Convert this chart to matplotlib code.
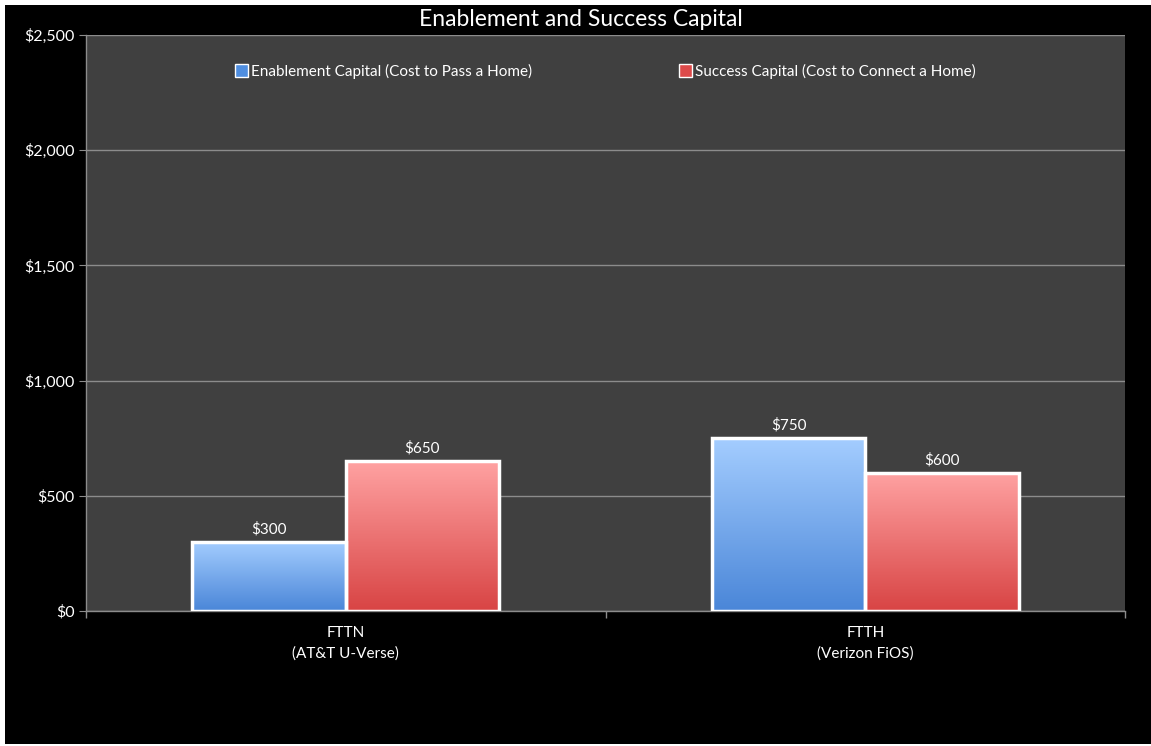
import numpy as np
import matplotlib
matplotlib.use("Agg")
import matplotlib.pyplot as plt
from matplotlib.colors import LinearSegmentedColormap
from matplotlib.patches import Rectangle, Patch
from matplotlib.ticker import FuncFormatter

plt.rcParams['font.family'] = ['Lato', 'DejaVu Sans']

categories = ["FTTN\n(AT&T U-Verse)", "FTTH\n(Verizon FiOS)"]
series_names = ["Enablement Capital (Cost to Pass a Home)",
                "Success Capital (Cost to Connect a Home)"]
enablement = [300, 750]
success = [650, 600]
title = "Enablement and Success Capital"

top_colors = ["#a4cdff", "#ffa2a2"]
bottom_colors = ["#4a86d8", "#d84444"]
legend_colors = ["#4f8ee0", "#dd4a4a"]

fig = plt.figure(figsize=(11.51, 7.46), dpi=100, facecolor="white")
# black chart area with thin white border
fig.patches.append(Rectangle((5/1151, 2/746), 1 - 5/1151, 1 - 7/746,
                             transform=fig.transFigure, facecolor="black",
                             edgecolor="none", zorder=-10))

ax = fig.add_axes([86/1151, (746-611)/746, 1039/1151, 576/746])
ax.set_facecolor("#404040")

x = np.arange(len(categories))
width = 0.295
series = [enablement, success]
offsets = [-width/2, width/2]

ax.set_xlim(-0.5, 1.5)
ax.set_ylim(0, 2500)

grad = np.linspace(0, 1, 256).reshape(-1, 1)
for si, vals in enumerate(series):
    cmap = LinearSegmentedColormap.from_list(f"g{si}", [bottom_colors[si], top_colors[si]])
    bars = ax.bar(x + offsets[si], vals, width, facecolor="none",
                  edgecolor="white", linewidth=2.5, zorder=4)
    for b, v in zip(bars, vals):
        x0, w = b.get_x(), b.get_width()
        im = ax.imshow(grad, extent=(x0, x0 + w, 0, v), origin="lower",
                       cmap=cmap, aspect="auto", zorder=3)
        im.set_clip_path(b)
        ax.text(x0 + w/2, v + 25, f"${v:,}", ha="center", va="bottom",
                color="white", fontsize=11, zorder=5)

ax.set_xlim(-0.5, 1.5)
ax.set_ylim(0, 2500)

ax.set_yticks(np.arange(0, 2501, 500))
ax.yaxis.set_major_formatter(FuncFormatter(lambda v, p: f"${int(v):,}"))
ax.grid(axis="y", color="#8c8c8c", linewidth=1, zorder=1)
ax.set_axisbelow(True)

ax.set_xticks(x)
ax.set_xticklabels(categories, linespacing=1.55)
ax.set_xticks([-0.5, 0.5, 1.5], minor=True)
ax.tick_params(axis="x", which="major", length=0, pad=11, colors="white", labelsize=11)
ax.tick_params(axis="x", which="minor", length=5, color="#8c8c8c", width=1)
ax.tick_params(axis="y", length=5, color="#8c8c8c", colors="white", labelsize=11.5, pad=3)
for lbl in ax.get_yticklabels():
    lbl.set_color("white")

for s in ["top", "right"]:
    ax.spines[s].set_visible(False)
for s in ["left", "bottom"]:
    ax.spines[s].set_color("#8c8c8c")
    ax.spines[s].set_linewidth(1)

handles = [Patch(facecolor=legend_colors[i], edgecolor="white", linewidth=1)
           for i in range(2)]
leg = ax.legend(handles, series_names, loc="center", bbox_to_anchor=(0.5, 0.937),
                ncol=2, frameon=False, fontsize=11, handlelength=0.85,
                handleheight=0.85, handletextpad=0.2, columnspacing=9.6)
for t in leg.get_texts():
    t.set_color("white")

fig.text(581/1151, 1 - 19/746, title, ha="center", va="center",
         color="white", fontsize=16.5)

fig.savefig("out.png", dpi=100, facecolor="white")
